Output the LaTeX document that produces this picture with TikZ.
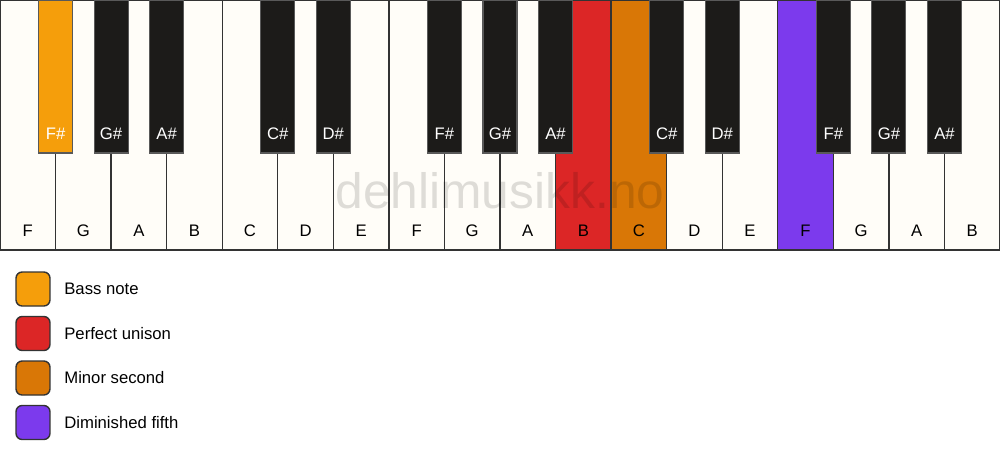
\documentclass[tikz,border=0pt]{standalone}
\usepackage{fontspec}
\setmainfont{Liberation Sans}
\definecolor{keywhite}{HTML}{FFFDF8}
\definecolor{keyblack}{HTML}{1C1B19}
\definecolor{keyline}{HTML}{333333}
\definecolor{bass}{HTML}{F59E0B}
\definecolor{unison}{HTML}{DC2626}
\definecolor{minor}{HTML}{D97706}
\definecolor{dimfifth}{HTML}{7C3AED}
\begin{document}
\begin{tikzpicture}[x=0.02cm, y=-0.02cm,
		white key/.style={draw=keyline, line width=0.8pt},
		black key/.style={draw=black!65, line width=0.6pt},
		key label/.style={font=\fontsize{9.5}{11}\selectfont, inner sep=0pt, anchor=base},
		legend box/.style={draw=keyline, line width=0.8pt, rounded corners=3.5pt, minimum size=0.68cm, inner sep=0pt},
		legend text/.style={font=\fontsize{9.5}{11}\selectfont, inner sep=0pt, anchor=west}]
	\useasboundingbox (0,0) rectangle (1000,461);
	% white keys
	\foreach \n/\c [count=\i from 0] in {F/keywhite, G/keywhite, A/keywhite, B/keywhite, C/keywhite, D/keywhite, E/keywhite, F/keywhite, G/keywhite, A/keywhite, B/unison, C/minor, D/keywhite, E/keywhite, F/dimfifth, G/keywhite, A/keywhite, B/keywhite} {
		\draw[white key, fill=\c] (\i*55.556, 0) rectangle ++(55.556, 250);
		\node[key label] (w\i) at (\i*55.556+27.778, 236) {\n};
	}
	\node[font=\fontsize{28.3}{34}\selectfont, text=black, opacity=0.13, inner sep=0pt, anchor=base] (mark) at (500, 208) {dehlimusikk.no};
	% black keys
	\foreach \k/\n/\c in {1/F/bass, 2/G/keyblack, 3/A/keyblack, 5/C/keyblack, 6/D/keyblack, 8/F/keyblack, 9/G/keyblack, 10/A/keyblack, 12/C/keyblack, 13/D/keyblack, 15/F/keyblack, 16/G/keyblack, 17/A/keyblack} {
		\draw[black key, fill=\c] (\k*55.556-17, 0) rectangle ++(34, 153);
		\node[key label, text=white] (b\k) at (\k*55.556, 139) {\n\#};
	}
	% legend
	\node[legend box, fill=bass] (bass box) at (33, 289) {};
	\node[legend text] (bass text) at (64, 289) {Bass note};
	\node[legend box, fill=unison] (unison box) at (33, 333.5) {};
	\node[legend text] (unison text) at (64, 333.5) {Perfect unison};
	\node[legend box, fill=minor] (minor box) at (33, 378) {};
	\node[legend text] (minor text) at (64, 378) {Minor second};
	\node[legend box, fill=dimfifth] (dimfifth box) at (33, 422.5) {};
	\node[legend text] (dimfifth text) at (64, 422.5) {Diminished fifth};
\end{tikzpicture}
\end{document}
